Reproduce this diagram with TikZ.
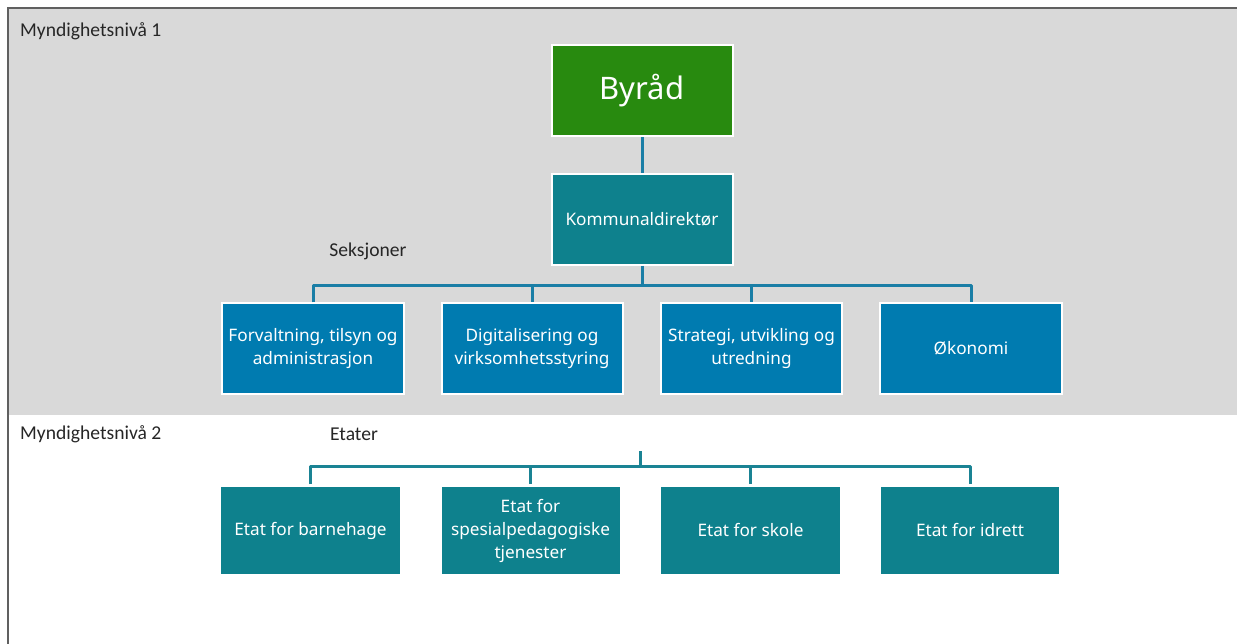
\documentclass[tikz,border=0pt]{standalone}
\usepackage{fontspec}
\setmainfont{Noto Sans}
\newfontfamily\lblfont{Carlito}
\definecolor{bggray}{HTML}{D9D9D9}
\definecolor{framegray}{HTML}{606060}
\definecolor{byradgreen}{HTML}{288A0F}
\definecolor{tealbox}{HTML}{0E818D}
\definecolor{bluebox}{HTML}{007BB0}
\definecolor{blueline}{HTML}{1A7EA6}
\definecolor{tealline}{HTML}{1A8394}
\definecolor{txtgray}{HTML}{262626}
\begin{document}
\begin{tikzpicture}[x=1pt,y=-1pt,
  box/.style={draw=white,line width=2pt,text=white,align=center,inner sep=0pt,
    font=\fontsize{17.2}{23}\selectfont},
  lbl/.style={font=\lblfont\fontsize{19.6}{22}\selectfont,text=txtgray,inner sep=0pt},
  bline/.style={draw=blueline,line width=3pt},
  tline/.style={draw=tealline,line width=3pt}]
\useasboundingbox (0,0) rectangle (1237,644);
\fill[white] (0,0) rectangle (1237,644);
\fill[bggray] (8,8) rectangle (1237,415);
\draw[framegray,line width=1.5pt] (8,644) -- (8,8) -- (1237,8);
% labels
\node[lbl,anchor=west] (n1) at (20,31) {Myndighetsnivå 1};
\node[lbl,anchor=west] (n2) at (20,434) {Myndighetsnivå 2};
\node[lbl] (seks) at (368,251) {Seksjoner};
\node[lbl] (etat) at (354,434) {Etater};
% top
\node[box,fill=byradgreen,minimum width=181pt,minimum height=91pt,
  font=\fontsize{31}{36}\selectfont] (byrad) at (642,91) {Byråd};
\node[box,fill=tealbox,minimum width=181pt,minimum height=91pt] (kd) at (642,219.5) {Kommunaldirektør};
\draw[bline] (byrad.south) -- (kd.north);
% seksjoner
\node[box,fill=bluebox,minimum width=182pt,minimum height=90pt] (s1) at (313,348.5) {Forvaltning, tilsyn og\\administrasjon};
\node[box,fill=bluebox,minimum width=181pt,minimum height=90pt] (s2) at (532,348.5) {Digitalisering og\\virksomhetsstyring};
\node[box,fill=bluebox,minimum width=181pt,minimum height=90pt] (s3) at (751.5,348.5) {Strategi, utvikling og\\utredning};
\node[box,fill=bluebox,minimum width=182pt,minimum height=90pt] (s4) at (971,348.5) {Økonomi};
\coordinate (bus1) at (642,286);
\draw[bline] (kd.south) -- (bus1);
\draw[bline,line join=round] (s1.north) -- (s1.north |- bus1) -- (s4.north |- bus1) -- (s4.north);
\draw[bline] (s2.north |- bus1) -- (s2.north);
\draw[bline] (s3.north |- bus1) -- (s3.north);
% etater
\node[box,draw=none,fill=tealbox,minimum width=179pt,minimum height=87pt] (e1) at (310.5,530.5) {Etat for barnehage};
\node[box,draw=none,fill=tealbox,minimum width=178pt,minimum height=87pt] (e2) at (530.5,530.5) {Etat for\\spesialpedagogiske\\tjenester};
\node[box,draw=none,fill=tealbox,minimum width=179pt,minimum height=87pt] (e3) at (750.5,530.5) {Etat for skole};
\node[box,draw=none,fill=tealbox,minimum width=178pt,minimum height=87pt] (e4) at (970,530.5) {Etat for idrett};
\coordinate (top2) at (640,451);
\coordinate (bus2) at (640,466);
\coordinate (drop2) at (640,484);
\draw[tline] (top2) -- (bus2);
\draw[tline,line join=round] (e1.north |- drop2) -- (e1.north |- bus2) -- (e4.north |- bus2) -- (e4.north |- drop2);
\draw[tline] (e2.north |- bus2) -- (e2.north |- drop2);
\draw[tline] (e3.north |- bus2) -- (e3.north |- drop2);
\end{tikzpicture}
\end{document}
